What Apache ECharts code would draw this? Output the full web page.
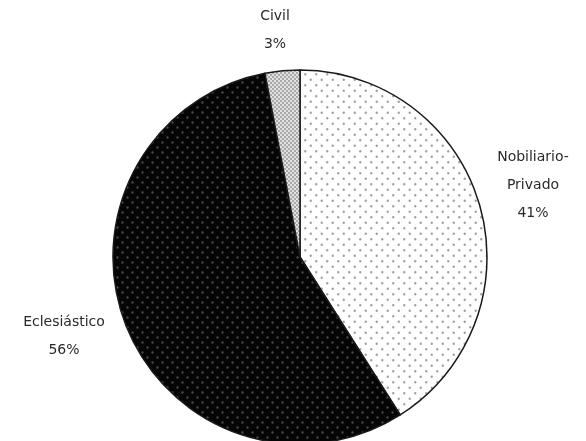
<!DOCTYPE html>
<html>
<head>
<meta charset="utf-8">
<script src="https://cdn.jsdelivr.net/npm/echarts@6/dist/echarts.min.js"></script>
<style>
  html, body { margin: 0; padding: 0; background: #ffffff; }
  #pieChart { width: 586px; height: 441px; }
</style>
</head>
<body>
<div id="pieChart"></div>
<script>
// data, clockwise from 12 o'clock
const categories = ['Nobiliario-Privado', 'Eclesiástico', 'Civil'];
const shares = [41, 56, 3];

// where each label block sits (centre of the text block)
const labelX = [533, 64, 275];
const labelY = [185, 336, 30];

function dotPattern(bg, dot, size, r) {
  let c = document.createElement('canvas');
  c.width = size;
  c.height = size;
  let ctx = c.getContext('2d');
  ctx.fillStyle = bg;
  ctx.fillRect(0, 0, size, size);
  ctx.fillStyle = dot;
  ctx.beginPath();
  ctx.arc(size * 0.25, size * 0.25, r, 0, Math.PI * 2);
  ctx.arc(size * 0.75, size * 0.75, r, 0, Math.PI * 2);
  ctx.fill();
  return c;
}

function finePattern() {
  let c = document.createElement('canvas');
  c.width = 4;
  c.height = 4;
  let ctx = c.getContext('2d');
  ctx.fillStyle = '#e2e2e2';
  ctx.fillRect(0, 0, 4, 4);
  ctx.fillStyle = '#a8a8a8';
  ctx.fillRect(0, 0, 2, 2);
  ctx.fillRect(2, 2, 2, 2);
  return c;
}

const fills = [
  { image: dotPattern('#ffffff', '#a0a0a0', 11, 1.2), repeat: 'repeat' },
  { image: dotPattern('#050505', '#4a4a4a', 10, 1.2), repeat: 'repeat' },
  { image: finePattern(), repeat: 'repeat' }
];

let pieChart = echarts.init(document.getElementById('pieChart'));
let option = {
  animation: false,
  series: [
    {
      type: 'pie',
      center: [300, 257],
      radius: 187,
      startAngle: 90,
      clockwise: true,
      data: categories.map(function (name, i) {
        return {
          name: name,
          value: shares[i],
          itemStyle: { color: fills[i] }
        };
      }),
      itemStyle: {
        borderColor: '#1a1a1a',
        borderWidth: 1.5
      },
      label: {
        show: true,
        position: 'outside',
        formatter: function (p) {
          return p.name.replace('-', '-\n') + '\n' + p.value + '%';
        },
        fontFamily: 'DejaVu Sans',
        fontSize: 14,
        lineHeight: 28,
        color: '#2a2a2a',
        align: 'center',
        width: 160,
        overflow: 'none'
      },
      labelLine: { show: false },
      labelLayout: function (params) {
        return {
          x: labelX[params.dataIndex],
          y: labelY[params.dataIndex],
          align: 'center',
          verticalAlign: 'middle'
        };
      }
    }
  ]
};
pieChart.setOption(option);
</script>
</body>
</html>
